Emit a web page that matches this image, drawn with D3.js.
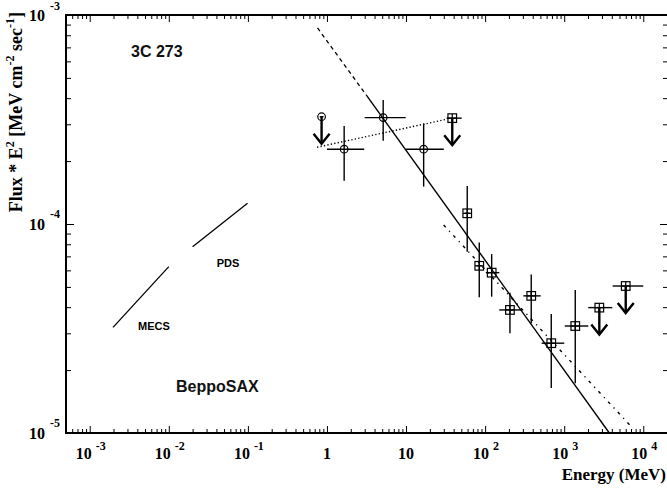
<!DOCTYPE html>
<html><head><meta charset="utf-8">
<script src="https://cdn.jsdelivr.net/npm/d3@7"></script>
<style>body{margin:0;background:#fff}</style>
</head><body>
<svg id="c" width="667" height="488"></svg>
<script>
// ---------- data ----------
const xMajor = [1e-3, 1e-2, 1e-1, 1, 10, 1e2, 1e3, 1e4];
const xTickBase = ["10", "10", "10", "1", "10", "10", "10", "10"];
const xTickExp = ["-3", "-2", "-1", "", "", "2", "3", "4"];
const yMajor = [1e-5, 1e-4, 1e-3];
const yTickBase = ["10", "10", "10"];
const yTickExp = ["-5", "-4", "-3"];

// COMPTEL detections (circles)
const comptelE = [1.65, 5.14, 16.7];
const comptelF = [2.28e-4, 3.23e-4, 2.28e-4];
const comptelElo = [1.0, 3.0, 10.0];
const comptelEhi = [2.96, 9.9, 30.0];
const comptelFlo = [1.61e-4, 2.5e-4, 1.51e-4];
const comptelFhi = [2.94e-4, 3.92e-4, 3.03e-4];
// COMPTEL upper limit
const comptelUlE = [0.855];
const comptelUlF = [3.26e-4];
const comptelUlElo = [0.81];
const comptelUlEhi = [0.905];

// EGRET detections (squares)
const egretE = [59.4, 84.3, 121, 206, 383, 686, 1380];
const egretF = [1.125e-4, 6.31e-5, 5.85e-5, 3.88e-5, 4.53e-5, 2.69e-5, 3.25e-5];
const egretElo = [55, 78, 102, 151, 304, 519, 1017];
const egretEhi = [64, 91, 151, 290, 504, 1002, 2017];
const egretFlo = [7.36e-5, 4.46e-5, 4.49e-5, 3.0e-5, 3.35e-5, 1.64e-5, 1.73e-5];
const egretFhi = [1.52e-4, 8.16e-5, 7.18e-5, 4.69e-5, 5.74e-5, 3.71e-5, 4.83e-5];
// EGRET upper limits
const egretUlE = [38.4, 2780, 6000];
const egretUlF = [3.21e-4, 3.98e-5, 5.05e-5];
const egretUlElo = [32.6, 2017, 4100];
const egretUlEhi = [50.5, 4060, 10000];

// model lines
const fitDashE = [0.76, 3.2];
const fitDashF = [8.67e-4, 4.1e-4];
const fitSolidE = [3.2, 3720];
const fitSolidF = [4.1e-4, 1.0e-5];
const fit2E = [29.9, 6790];
const fit2F = [9.89e-5, 1.09e-5];
const ulLineE = [0.75, 32.6];
const ulLineF = [2.33e-4, 3.17e-4];
const mecsE = [1.97e-3, 0.01];
const mecsF = [3.2e-5, 6.25e-5];
const pdsE = [0.02, 0.099];
const pdsF = [7.78e-5, 1.256e-4];

// ---------- drawing ----------
const svg = d3.select("#c");
const L = 66, R = 667, T = 15, B = 433;
const x = d3.scaleLog().domain([Math.pow(10, -3.3), Math.pow(10, 4.3)]).range([L, R]);
const y = d3.scaleLog().domain([1e-5, 1e-3]).range([B, T]);

function minors(lo, hi) {
  const out = [];
  for (let e = Math.floor(Math.log10(lo)); e <= Math.ceil(Math.log10(hi)); e++) {
    for (let m = 2; m <= 9; m++) {
      const v = m * Math.pow(10, e);
      if (v > lo && v < hi) out.push(v);
    }
  }
  return out;
}
const xMinor = minors(x.domain()[0], x.domain()[1]);
const yMinor = minors(1e-5, 1e-3);

function addAxis(axis, tr) {
  const g = svg.append("g").attr("transform", tr).call(axis);
  g.select(".domain").remove();
  g.selectAll("line").attr("stroke", "#000").attr("stroke-width", 1);
  g.selectAll("text").remove();
}
addAxis(d3.axisBottom(x).tickValues(xMajor).tickSize(-7).tickFormat(""), `translate(0,${B})`);
addAxis(d3.axisBottom(x).tickValues(xMinor).tickSize(-4).tickFormat(""), `translate(0,${B})`);
addAxis(d3.axisTop(x).tickValues(xMajor).tickSize(-7).tickFormat(""), `translate(0,${T})`);
addAxis(d3.axisTop(x).tickValues(xMinor).tickSize(-4).tickFormat(""), `translate(0,${T})`);
addAxis(d3.axisLeft(y).tickValues(yMajor).tickSize(-8).tickFormat(""), `translate(${L},0)`);
addAxis(d3.axisLeft(y).tickValues(yMinor).tickSize(-5).tickFormat(""), `translate(${L},0)`);
addAxis(d3.axisRight(y).tickValues(yMajor).tickSize(-7).tickFormat(""), `translate(${R},0)`);
addAxis(d3.axisRight(y).tickValues(yMinor).tickSize(-4).tickFormat(""), `translate(${R},0)`);

// frame
svg.append("rect").attr("x", L).attr("y", T).attr("width", R - L + 1).attr("height", B - T)
  .attr("fill", "none").attr("stroke", "#000").attr("stroke-width", 2);

const serif = "'Liberation Serif','Times New Roman',serif";
const sans = "'Liberation Sans',Arial,Helvetica,sans-serif";

// x tick labels
xMajor.forEach((v, i) => {
  const t = svg.append("text").attr("x", x(v) + (xTickExp[i] ? 1 : 0)).attr("y", 459)
    .attr("text-anchor", "middle").attr("font-family", serif).attr("font-weight", "bold")
    .attr("font-size", 16).attr("fill", "#000");
  t.append("tspan").text(xTickBase[i]);
  if (xTickExp[i]) t.append("tspan").attr("dx", 4).attr("dy", -9).attr("font-size", 12).text(xTickExp[i]);
});
// y tick labels
yMajor.forEach((v, i) => {
  svg.append("text").attr("x", 45).attr("y", y(v) + 6).attr("text-anchor", "end")
    .attr("font-family", serif).attr("font-weight", "bold").attr("font-size", 16).text(yTickBase[i]);
  svg.append("text").attr("x", 50).attr("y", Math.max(y(v) - 6, 10))
    .attr("font-family", serif).attr("font-weight", "bold").attr("font-size", 12).text(yTickExp[i]);
});

// axis titles
svg.append("text").attr("x", 666).attr("y", 480).attr("text-anchor", "end")
  .attr("font-family", serif).attr("font-weight", "bold").attr("font-size", 17).text("Energy (MeV)");
const yt = svg.append("text").attr("transform", "translate(22,12) rotate(-90)").attr("text-anchor", "end")
  .attr("font-family", serif).attr("font-weight", "bold").attr("font-size", 18);
yt.append("tspan").text("Flux * E");
yt.append("tspan").attr("dy", -8).attr("font-size", 12).text("2");
yt.append("tspan").attr("dy", 8).text(" [MeV cm");
yt.append("tspan").attr("dy", -8).attr("font-size", 12).text("-2");
yt.append("tspan").attr("dy", 8).text(" sec");
yt.append("tspan").attr("dy", -8).attr("font-size", 12).text("-1");
yt.append("tspan").attr("dy", 8).text("]");

// clip
svg.append("clipPath").attr("id", "pc").append("rect").attr("x", L).attr("y", T).attr("width", R - L).attr("height", B - T);
const plot = svg.append("g").attr("clip-path", "url(#pc)");

const line = d3.line().x(d => x(d[0])).y(d => y(d[1]));
function drawLine(E, F, dash, w) {
  plot.append("path").attr("d", line(d3.zip(E, F))).attr("fill", "none").attr("stroke", "#000")
    .attr("stroke-width", w).attr("stroke-dasharray", dash);
}
drawLine(fitDashE, fitDashF, "4,3.5", 1.3);
drawLine(fitSolidE, fitSolidF, null, 1.4);
drawLine(fit2E, fit2F, "3,5,1.2,5", 1.4);
drawLine(ulLineE, ulLineF, "1.3,2.2", 1.4);
drawLine(mecsE, mecsF, null, 1.3);
drawLine(pdsE, pdsF, null, 1.3);

// error bars + markers
function errBars(E, F, Elo, Ehi, Flo, Fhi) {
  E.forEach((e, i) => {
    plot.append("line").attr("x1", x(Elo[i])).attr("x2", x(Ehi[i])).attr("y1", y(F[i])).attr("y2", y(F[i]))
      .attr("stroke", "#000").attr("stroke-width", 1.4);
    if (Flo) plot.append("line").attr("x1", x(e)).attr("x2", x(e)).attr("y1", y(Flo[i])).attr("y2", y(Fhi[i]))
      .attr("stroke", "#000").attr("stroke-width", 1.4);
  });
}
function arrows(E, F) {
  E.forEach((e, i) => {
    const cx = x(e), cy = y(F[i]);
    plot.append("line").attr("x1", cx).attr("x2", cx).attr("y1", cy).attr("y2", cy + 27)
      .attr("stroke", "#000").attr("stroke-width", 2.4);
    plot.append("path").attr("d", `M${cx - 8},${cy + 17} L${cx},${cy + 27} L${cx + 8},${cy + 17}`)
      .attr("fill", "none").attr("stroke", "#000").attr("stroke-width", 2.4);
  });
}
function circles(E, F) {
  E.forEach((e, i) => plot.append("circle").attr("cx", x(e)).attr("cy", y(F[i])).attr("r", 3.8)
    .attr("fill", "none").attr("stroke", "#000").attr("stroke-width", 1.2));
}
function squares(E, F) {
  E.forEach((e, i) => {
    plot.append("rect").attr("x", x(e) - 4.3).attr("y", y(F[i]) - 4.3).attr("width", 8.6).attr("height", 8.6)
      .attr("fill", "none").attr("stroke", "#000").attr("stroke-width", 1.2);
    plot.append("line").attr("x1", x(e) - 4.3).attr("x2", x(e) + 4.3).attr("y1", y(F[i])).attr("y2", y(F[i]))
      .attr("stroke", "#000").attr("stroke-width", 1.2);
    plot.append("line").attr("x1", x(e)).attr("x2", x(e)).attr("y1", y(F[i]) - 4.3).attr("y2", y(F[i]) + 4.3)
      .attr("stroke", "#000").attr("stroke-width", 1.2);
  });
}
errBars(comptelE, comptelF, comptelElo, comptelEhi, comptelFlo, comptelFhi);
circles(comptelE, comptelF);
errBars(comptelUlE, comptelUlF, comptelUlElo, comptelUlEhi, null, null);
circles(comptelUlE, comptelUlF);
arrows(comptelUlE, comptelUlF);
errBars(egretE, egretF, egretElo, egretEhi, egretFlo, egretFhi);
squares(egretE, egretF);
errBars(egretUlE, egretUlF, egretUlElo, egretUlEhi, null, null);
squares(egretUlE, egretUlF);
arrows(egretUlE, egretUlF);

// annotations
svg.append("text").attr("x", 131).attr("y", 57).attr("font-family", sans).attr("font-size", 16)
  .attr("font-weight", "bold").attr("fill", "#111").text("3C 273");
svg.append("text").attr("x", 176).attr("y", 392).attr("font-family", sans).attr("font-size", 16)
  .attr("font-weight", "bold").attr("fill", "#111").text("BeppoSAX");
svg.append("text").attr("x", 228).attr("y", 267).attr("text-anchor", "middle").attr("font-family", sans)
  .attr("font-size", 11).attr("font-weight", "bold").text("PDS");
svg.append("text").attr("x", 154).attr("y", 330).attr("text-anchor", "middle").attr("font-family", sans)
  .attr("font-size", 11).attr("font-weight", "bold").text("MECS");
</script>
</body></html>
